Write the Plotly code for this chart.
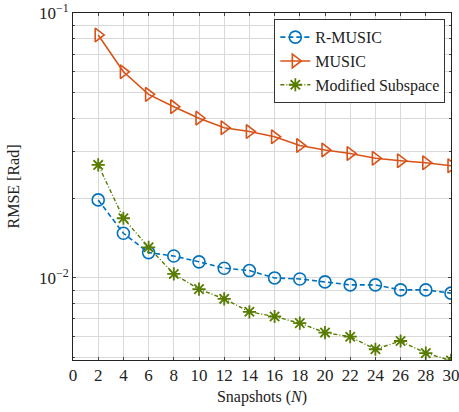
import plotly.graph_objects as go
import math

snapshots = [2, 4, 6, 8, 10, 12, 14, 16, 18, 20, 22, 24, 26, 28, 30]
rmusic = [0.0197, 0.01474, 0.01246, 0.0121, 0.0115, 0.01088, 0.01066, 0.0100,
          0.00991, 0.00966, 0.00941, 0.00941, 0.00901, 0.00901, 0.00876]
music = [0.0826, 0.0600, 0.0493, 0.0443, 0.0401, 0.0369, 0.0357, 0.0341,
         0.0316, 0.0304, 0.0295, 0.0283, 0.0277, 0.0272, 0.0265]
modified = [0.0267, 0.0168, 0.01305, 0.01035, 0.00907, 0.00834, 0.00745, 0.00715,
            0.00675, 0.00622, 0.0060, 0.00538, 0.00578, 0.0052, 0.00488]

xticks = list(range(0, 31, 2))
ytick_vals = [0.01, 0.1]
ytick_text = ["10<sup>−2</sup>", "10<sup>−1</sup>"]
yminor = [0.005, 0.006, 0.007, 0.008, 0.009, 0.02, 0.03, 0.04, 0.05, 0.06, 0.07, 0.08, 0.09]

BLUE = "#0072BD"
ORANGE = "#D95319"
GREEN = "#577C00"
FONT = "Liberation Serif"

fig = go.Figure()
fig.add_trace(go.Scatter(
    x=snapshots, y=rmusic, name="R-MUSIC", mode="lines+markers",
    line=dict(color=BLUE, width=1.6, dash="5px,3px"),
    marker=dict(symbol="circle-open", size=12, color=BLUE, line=dict(width=1.6)),
))
fig.add_trace(go.Scatter(
    x=snapshots, y=music, name="MUSIC", mode="lines+markers",
    line=dict(color=ORANGE, width=1.6),
    marker=dict(symbol="triangle-right-open", size=12, color=ORANGE, line=dict(width=1.6)),
))
fig.add_trace(go.Scatter(
    x=snapshots, y=modified, name="Modified Subspace", mode="lines+markers",
    line=dict(color=GREEN, width=1.4, dash="4px,2px,1px,2px"),
    marker=dict(symbol="asterisk-open", size=11, color=GREEN, line=dict(width=1.8, color=GREEN)),
))

fig.update_layout(
    width=459, height=412,
    margin=dict(l=73, r=8, t=13, b=52, autoexpand=False),
    paper_bgcolor="white", plot_bgcolor="white",
    font=dict(family=FONT, size=16, color="#222"),
    showlegend=True,
    legend=dict(
        x=0.985, y=0.982, xanchor="right", yanchor="top",
        bgcolor="white", bordercolor="#333", borderwidth=1,
        font=dict(family=FONT, size=16, color="#222"),
        itemwidth=30, tracegroupgap=0,
    ),
)
fig.update_xaxes(
    range=[0, 30], tickvals=xticks, ticks="inside", ticklen=3, tickcolor="#444",
    showgrid=True, gridcolor="#d9d9d9", gridwidth=1,
    showline=True, linecolor="#222", linewidth=1, mirror="ticks",
    zeroline=False, automargin=False, ticklabeloverflow="allow",
    title=dict(text="Snapshots (<i>N</i>)", font=dict(family=FONT, size=16), standoff=6),
    tickfont=dict(family=FONT, size=17),
)
fig.update_yaxes(
    type="log", range=[math.log10(0.0049), -1],
    tickvals=ytick_vals, ticktext=ytick_text, ticks="inside", ticklen=3, tickcolor="#444",
    showgrid=True, gridcolor="#d9d9d9", gridwidth=1,
    minor=dict(tickvals=yminor, ticks="inside", ticklen=2, tickcolor="#444",
               showgrid=True, gridcolor="#d9d9d9", gridwidth=1),
    showline=True, linecolor="#222", linewidth=1, mirror="ticks",
    zeroline=False, automargin=False, ticklabeloverflow="allow",
    title=dict(text="RMSE [Rad]", font=dict(family=FONT, size=16), standoff=15),
    tickfont=dict(family=FONT, size=17),
)

fig.write_html(
    "out.html",
    config={"displayModeBar": False},
    post_script="document.body.style.margin='0';document.body.style.overflow='hidden';",
)
